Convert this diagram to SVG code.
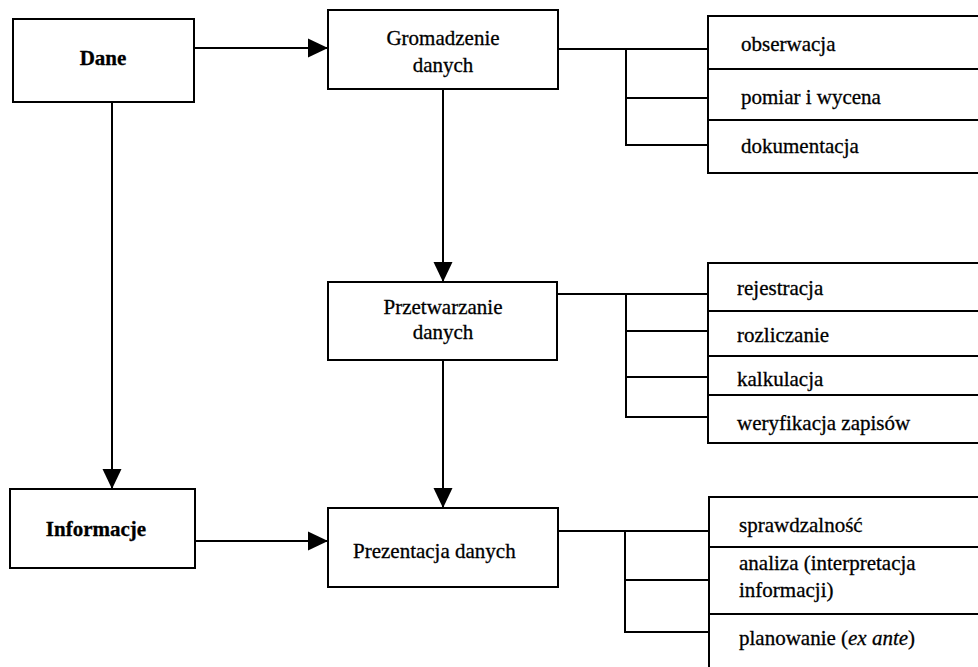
<svg xmlns="http://www.w3.org/2000/svg" width="978" height="667" viewBox="0 0 978 667">
  <style>
    .box { fill: #ffffff; stroke: #000000; stroke-width: 2; }
    .ln { fill: none; stroke: #000000; stroke-width: 2; }
    .t { font-family: "Liberation Serif", "Times New Roman", serif; font-size: 21px; fill: #000000; stroke: #000000; stroke-width: 0.3; }
    .b { font-weight: bold; }
    .c { text-anchor: middle; }
  </style>
  <defs>
    <marker id="arr" markerUnits="userSpaceOnUse" markerWidth="20" markerHeight="20" refX="20" refY="9.5" orient="auto" viewBox="0 0 20 19">
      <path d="M0,0 L20,9.5 L0,19 Z" fill="#000000"/>
    </marker>
  </defs>
  <rect width="978" height="667" fill="#ffffff"/>

  <g id="connectors">
    <line class="ln" x1="194" y1="48" x2="328" y2="48" marker-end="url(#arr)"/>
    <line class="ln" x1="112" y1="102" x2="112" y2="489" marker-end="url(#arr)"/>
    <line class="ln" x1="443" y1="89" x2="443" y2="282" marker-end="url(#arr)"/>
    <line class="ln" x1="443" y1="360" x2="443" y2="508" marker-end="url(#arr)"/>
    <line class="ln" x1="195" y1="541" x2="328" y2="541" marker-end="url(#arr)"/>
    <!-- top branch -->
    <polyline class="ln" points="558,49 708,49"/>
    <polyline class="ln" points="626,49 626,145 708,145"/>
    <line class="ln" x1="626" y1="98" x2="708" y2="98"/>
    <!-- middle branch -->
    <polyline class="ln" points="557,294 708,294"/>
    <polyline class="ln" points="626,294 626,417 708,417"/>
    <line class="ln" x1="626" y1="331" x2="708" y2="331"/>
    <line class="ln" x1="626" y1="377" x2="708" y2="377"/>
    <!-- bottom branch -->
    <polyline class="ln" points="558,531 710,531"/>
    <polyline class="ln" points="625,531 625,632 710,632"/>
    <line class="ln" x1="625" y1="580" x2="710" y2="580"/>
  </g>

  <g id="dane">
    <rect class="box" x="13" y="19" width="181" height="83"/>
    <text class="t b c" x="103" y="65">Dane</text>
  </g>
  <g id="informacje">
    <rect class="box" x="10" y="489" width="185" height="79"/>
    <text class="t b c" x="96" y="536">Informacje</text>
  </g>
  <g id="gromadzenie">
    <rect class="box" x="328" y="10" width="230" height="79"/>
    <text class="t c" x="443" y="45">Gromadzenie</text>
    <text class="t c" x="443" y="72">danych</text>
  </g>
  <g id="przetwarzanie">
    <rect class="box" x="328" y="282" width="229" height="78"/>
    <text class="t c" x="443" y="314">Przetwarzanie</text>
    <text class="t c" x="443" y="339">danych</text>
  </g>
  <g id="prezentacja">
    <rect class="box" x="328" y="508" width="230" height="79"/>
    <text class="t" x="353" y="558">Prezentacja danych</text>
  </g>

  <g id="obserwacja">
    <rect class="box" x="708" y="16" width="274" height="53"/>
    <text class="t" x="741" y="51">obserwacja</text>
  </g>
  <g id="pomiar">
    <rect class="box" x="708" y="69" width="274" height="51"/>
    <text class="t" x="741" y="104">pomiar i wycena</text>
  </g>
  <g id="dokumentacja">
    <rect class="box" x="708" y="120" width="274" height="53"/>
    <text class="t" x="741" y="153">dokumentacja</text>
  </g>

  <g id="rejestracja">
    <rect class="box" x="708" y="263" width="274" height="48"/>
    <text class="t" x="737" y="295">rejestracja</text>
  </g>
  <g id="rozliczanie">
    <rect class="box" x="708" y="311" width="274" height="45"/>
    <text class="t" x="737" y="342">rozliczanie</text>
  </g>
  <g id="kalkulacja">
    <rect class="box" x="708" y="356" width="274" height="39"/>
    <text class="t" x="737" y="386">kalkulacja</text>
  </g>
  <g id="weryfikacja">
    <rect class="box" x="708" y="395" width="274" height="48"/>
    <text class="t" x="737" y="430">weryfikacja zapisów</text>
  </g>

  <g id="sprawdzalnosc">
    <rect class="box" x="709" y="497" width="273" height="50"/>
    <text class="t" x="739" y="532">sprawdzalność</text>
  </g>
  <g id="analiza">
    <rect class="box" x="709" y="547" width="273" height="67"/>
    <text class="t" x="739" y="570">analiza (interpretacja</text>
    <text class="t" x="739" y="597">informacji)</text>
  </g>
  <g id="planowanie">
    <rect class="box" x="709" y="614" width="273" height="70"/>
    <text class="t" x="739" y="645">planowanie (<tspan font-style="italic">ex ante</tspan>)</text>
  </g>
</svg>
